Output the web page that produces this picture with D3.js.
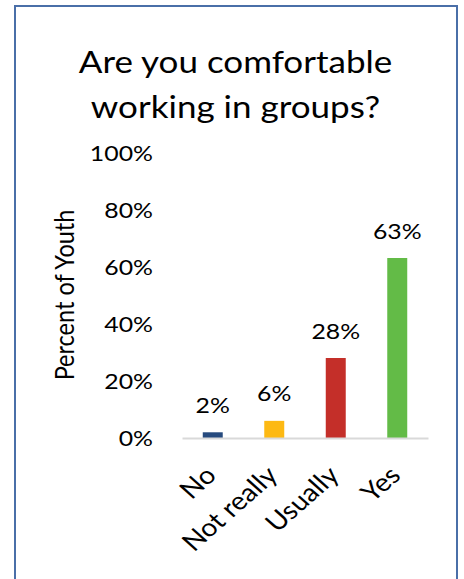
<!DOCTYPE html>
<html>
<head>
<meta charset="utf-8">
<script src="https://cdn.jsdelivr.net/npm/d3@7"></script>
<style>
  html, body { margin: 0; padding: 0; background: #ffffff; }
  svg { display: block; font-family: Lato, "Open Sans", sans-serif; }
</style>
</head>
<body>
<svg id="chart" width="464" height="579"></svg>
<script>
// Survey answers and their shares of respondents
const categories = ["No", "Not really", "Usually", "Yes"];
const values = [0.02, 0.06, 0.28, 0.63];
const barColors = ["#264a7e", "#fdb913", "#c42f29", "#63bb47"];
const yTicks = [0, 0.2, 0.4, 0.6, 0.8, 1.0];
const titleLines = ["Are you comfortable", "working in groups?"];
const yTitle = "Percent of Youth";

// glyphs are drawn slightly wide
const sx = 1.13;

const svg = d3.select("#chart");

// frame around the chart
svg.append("rect")
  .attr("x", 15).attr("y", 6)
  .attr("width", 442).attr("height", 620)
  .attr("fill", "none")
  .attr("stroke", "#4a6fa8")
  .attr("stroke-width", 2);

// title
svg.append("g").selectAll("text")
  .data(titleLines)
  .join("text")
  .attr("transform", (d, i) => `translate(235.5,${73 + i * 45}) scale(${sx},1)`)
  .attr("text-anchor", "middle")
  .attr("font-size", 31)
  .attr("fill", "#000")
  .text(d => d);

const plotLeft = 182, plotRight = 428, plotBottom = 438, plotTop = 152.3;

const x = d3.scaleBand()
  .domain(categories)
  .range([plotLeft, plotRight])
  .paddingInner(0.675)
  .paddingOuter(0.3375);

const y = d3.scaleLinear()
  .domain([0, 1])
  .range([plotBottom, plotTop]);

// y axis: labels only
const yAxis = svg.append("g")
  .attr("transform", `translate(${plotLeft},0)`)
  .call(d3.axisLeft(y).tickValues(yTicks).tickFormat(d3.format(".0%")).tickSize(0).tickPadding(0));
yAxis.select(".domain").remove();
yAxis.selectAll("text")
  .attr("x", 0)
  .attr("dy", "0.36em")
  .attr("transform", `translate(-29,0) scale(${sx},1)`)
  .attr("font-family", "Lato, 'Open Sans', sans-serif")
  .attr("font-size", 22)
  .attr("fill", "#000");

// bars
svg.append("g").selectAll("rect")
  .data(values)
  .join("rect")
  .attr("x", (d, i) => x(categories[i]))
  .attr("y", d => y(d))
  .attr("width", x.bandwidth())
  .attr("height", d => y(0) - y(d))
  .attr("fill", (d, i) => barColors[i]);

// value labels
svg.append("g").selectAll("text")
  .data(values)
  .join("text")
  .attr("transform", (d, i) => `translate(${x(categories[i]) + x.bandwidth() / 2},${y(d) - 19.5}) scale(${sx},1)`)
  .attr("text-anchor", "middle")
  .attr("font-size", 22)
  .attr("fill", "#000")
  .text(d => d3.format(".0%")(d));

// x axis: baseline and rotated category labels
const xAxis = svg.append("g")
  .attr("transform", `translate(0,${plotBottom})`)
  .call(d3.axisBottom(x).tickSize(0).tickSizeOuter(0));
xAxis.select(".domain")
  .attr("stroke", "#d9d9d9")
  .attr("stroke-width", 2);
xAxis.selectAll("text")
  .attr("x", 0).attr("y", 0).attr("dy", 0)
  .attr("text-anchor", "end")
  .attr("transform", `translate(5,39) scale(${sx},1) rotate(-45)`)
  .attr("font-family", "Lato, 'Open Sans', sans-serif")
  .attr("font-size", 25)
  .attr("fill", "#000");

// y axis title
svg.append("text")
  .attr("transform", `translate(74,295) scale(${sx},1) rotate(-90)`)
  .attr("text-anchor", "middle")
  .attr("font-size", 23.5)
  .attr("fill", "#000")
  .text(yTitle);
</script>
</body>
</html>
